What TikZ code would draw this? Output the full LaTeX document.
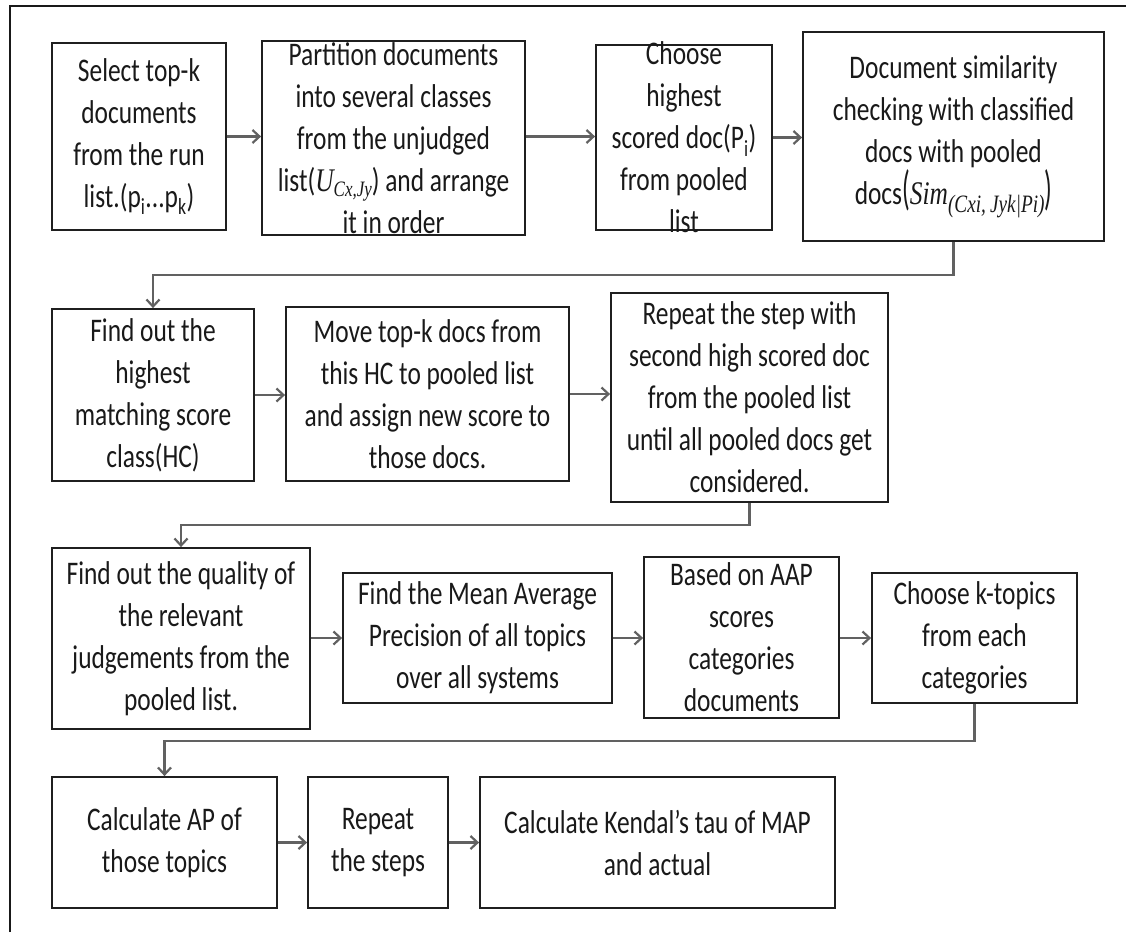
\documentclass[tikz,border=0pt]{standalone}
\usepackage{fontspec}
\setmainfont{Carlito}[FakeStretch=0.77]
\newfontfamily\serifit{Liberation Serif}[FakeStretch=0.77]
\usetikzlibrary{arrows.meta}

\tikzset{
  stepbox/.style={draw=black!88, line width=1.8pt, rectangle, inner sep=0pt},
  steptext/.style={align=center, inner sep=0pt, text=black!90,
                   font=\fontsize{33}{42}\selectfont},
  link/.style={draw=black!62, line width=2.2pt,
               -{Straight Barb[length=7pt,width=13pt]}},
  frameline/.style={draw=black!90, line width=2pt}
}
% italic serif pieces for the formulas
\newcommand{\itf}[1]{{\serifit\itshape #1}}
\newcommand{\tallparen}[1]{\scalebox{1}[1.45]{#1}}

\begin{document}
\begin{tikzpicture}[x=1pt,y=-1pt]
  \useasboundingbox (0,0) rectangle (1126,932);

  % outer frame (left and top edges)
  \draw[frameline] (10,932) -- (10,6) -- (1126,6);

  % ---- row 1 ----
  \node[stepbox, minimum width=174pt, minimum height=187pt] (A) at (139,136.5) {};
  \node[steptext] (At) at (A) {Select top-k\\documents\\from the run\\list.(p\textsubscript{i}...p\textsubscript{k})};

  \node[stepbox, minimum width=263pt, minimum height=194pt] (B) at (393.5,138) {};
  \node[steptext] (Bt) at (B) {Partition documents\\into several classes\\from the unjudged\\list(\itf{U}\raisebox{-0.35ex}{\fontsize{22}{22}\selectfont\itf{Cx,Jy}}) and arrange\\it in order};

  \node[stepbox, minimum width=176pt, minimum height=185pt] (C) at (684,137.5) {};
  \node[steptext] (Ct) at (C) {Choose\\highest\\scored doc(P\textsubscript{i})\\from pooled\\list};

  \node[stepbox, minimum width=301pt, minimum height=209pt] (D) at (953.5,136.5) {};
  \node[steptext] (Dt) at (D) {Document similarity\\checking with classified\\docs with pooled\\docs\tallparen{(}\itf{Sim}\raisebox{-0.5ex}{\fontsize{25}{25}\selectfont\itf{(Cxi,\,Jyk|Pi)}}\tallparen{)}};

  % ---- row 2 ----
  \node[stepbox, minimum width=202pt, minimum height=172pt] (E) at (153,395) {};
  \node[steptext] (Et) at (E) {Find out the\\highest\\matching score\\class(HC)};

  \node[stepbox, minimum width=283pt, minimum height=174pt] (F) at (427.5,394) {};
  \node[steptext] (Ft) at (F) {Move top-k docs from\\this HC to pooled list\\and assign new score to\\those docs.};

  \node[stepbox, minimum width=277pt, minimum height=209pt] (G) at (749.5,397.5) {};
  \node[steptext] (Gt) at (G) {Repeat the step with\\second high scored doc\\from the pooled list\\until all pooled docs get\\considered.};

  % ---- row 3 ----
  \node[stepbox, minimum width=258pt, minimum height=181pt] (H) at (181,638.5) {};
  \node[steptext] (Ht) at (H) {Find out the quality of\\the relevant\\judgements from the\\pooled list.};

  \node[stepbox, minimum width=269pt, minimum height=130pt] (I) at (477.5,638) {};
  \node[steptext] (It) at (I) {Find the Mean Average\\Precision of all topics\\over all systems};

  \node[stepbox, minimum width=195pt, minimum height=161pt] (P) at (741.5,637.5) {};
  \node[steptext] (Pt) at (P) {Based on AAP\\scores\\categories\\documents};

  \node[stepbox, minimum width=205pt, minimum height=130pt] (K) at (974.5,638) {};
  \node[steptext] (Kt) at (K) {Choose k-topics\\from each\\categories};

  % ---- row 4 ----
  \node[stepbox, minimum width=225pt, minimum height=131pt] (J) at (164.5,842.5) {};
  \node[steptext] (Jt) at (J) {Calculate AP of\\those topics};

  \node[stepbox, minimum width=140pt, minimum height=131pt] (R) at (378,842.5) {};
  \node[steptext] (Rt) at (R) {Repeat\\the steps};

  \node[stepbox, minimum width=355pt, minimum height=131pt] (L) at (657.5,842.5) {};
  \node[steptext] (Lt) at (L) {Calculate Kendal’s tau of MAP\\and actual};

  % ---- connectors within rows ----
  \draw[link] (A.east) -- (A.east -| B.west);
  \draw[link] (B.east |- A.east) -- (A.east -| C.west);
  \draw[link] (C.east) -- (C.east -| D.west);

  \draw[link] (E.east) -- (E.east -| F.west);
  \draw[link] (F.east) -- (F.east -| G.west);

  \draw[link] (H.east |- I.west) -- (I.west);
  \draw[link] (I.east) -- (I.east -| P.west);
  \draw[link] (P.east |- K.west) -- (K.west);

  \draw[link] (J.east) -- (R.west);
  \draw[link] (R.east) -- (L.west);

  % ---- connectors between rows ----
  \draw[link] (D.south) -- ++(0,33) -| (E.north);
  \draw[link] (G.south) -- ++(0,22) -| (H.north);
  \draw[link] (K.south) -- ++(0,37) -| (J.north);
\end{tikzpicture}
\end{document}
